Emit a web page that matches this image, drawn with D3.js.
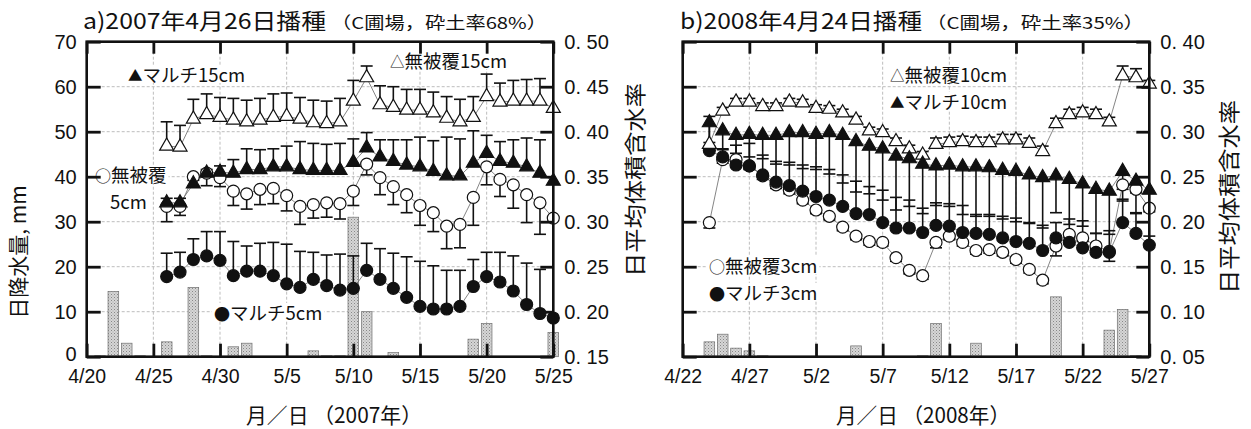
<!DOCTYPE html>
<html><head><meta charset="utf-8">
<script src="https://cdn.jsdelivr.net/npm/d3@7"></script>
<style>
body{margin:0;background:#fff;}
svg{display:block;font-family:"Noto Sans CJK JP","Noto Sans",sans-serif;}
</style></head><body>
<svg id="chart" width="1251" height="429"></svg>
<script>
// ================= Panel a : 2007 =================
const yearA = 2007;
const xTicksA = ["4/20","4/25","4/30","5/5","5/10","5/15","5/20","5/25"];
const datesA = ["4/26","4/27","4/28","4/29","4/30","5/1","5/2","5/3","5/4","5/5","5/6","5/7","5/8","5/9","5/10",
  "5/11","5/12","5/13","5/14","5/15","5/16","5/17","5/18","5/19","5/20","5/21","5/22","5/23","5/24","5/25"];
// 無被覆15cm (open triangle)
const nt15A = [0.384,0.383,0.414,0.419,0.416,0.413,0.411,0.413,0.416,0.417,0.414,0.410,0.409,0.411,0.434,
  0.460,0.430,0.427,0.424,0.424,0.421,0.415,0.411,0.416,0.439,0.433,0.434,0.434,0.434,0.426];
const nt15AErr = [0.027,0.024,0.022,0.023,0.022,0.024,0.024,0.024,0.026,0.026,0.024,0.025,0.025,0.026,0.023,
  0.013,0.021,0.023,0.023,0.023,0.023,0.024,0.025,0.023,0.025,0.021,0.023,0.024,0.025,0];
// マルチ15cm (filled triangle)
const m15A = [0.321,0.321,0.342,0.354,0.355,0.354,0.358,0.358,0.361,0.361,0.358,0.357,0.357,0.357,0.366,
  0.382,0.372,0.367,0.363,0.361,0.356,0.351,0.351,0.365,0.376,0.367,0.365,0.361,0.354,0.345];
const m15AErr = [0.005,0.005,0.004,0.004,0.007,0.015,0.023,0.022,0.020,0.023,0.031,0.030,0.029,0.030,0.026,
  0.017,0.019,0.024,0.028,0.033,0.034,0.043,0.041,0.036,0.020,0.022,0.026,0.032,0.037,0];
// 無被覆5cm (open circle)
const nt5A = [0.317,0.317,0.350,0.354,0.349,0.334,0.331,0.336,0.337,0.329,0.317,0.319,0.321,0.320,0.334,
  0.364,0.349,0.339,0.330,0.318,0.310,0.295,0.297,0.327,0.361,0.347,0.341,0.330,0.321,0.304];
const nt5AErr = [0.017,0.010,0.010,0.014,0.010,0.016,0.017,0.017,0.017,0.017,0.020,0.015,0.016,0.017,0.016,
  0.012,0.019,0.020,0.020,0.022,0.021,0.025,0.026,0.031,0.020,0.019,0.026,0.031,0.035,0];
// マルチ5cm (filled circle)
const m5A = [0.239,0.244,0.258,0.262,0.257,0.240,0.245,0.245,0.240,0.231,0.227,0.236,0.229,0.224,0.226,
  0.246,0.236,0.226,0.216,0.206,0.203,0.203,0.206,0.228,0.239,0.233,0.223,0.208,0.198,0.193];
const m5AErr = [0.026,0.022,0.023,0.027,0.032,0.038,0.028,0.031,0.037,0.044,0.040,0.030,0.034,0.040,0.036,
  0.030,0.034,0.039,0.045,0.050,0.048,0.043,0.040,0.030,0.027,0.033,0.039,0.046,0.049,0];
// daily precipitation (mm)
const rainDatesA = ["4/21","4/22","4/23","4/24","4/26","4/28","4/29","5/1","5/2","5/7","5/8","5/9","5/10","5/11","5/13","5/19","5/20","5/25"];
const rainA = [0.2,14.5,3.0,0.2,3.3,15.4,0.2,2.2,3.0,1.3,0.2,0.2,31.0,10.0,0.9,3.9,7.4,5.4];
const rightTicksA = [0.15,0.20,0.25,0.30,0.35,0.40,0.45,0.50];
const rightLabelsA = ["0. 15","0. 20","0. 25","0. 30","0. 35","0. 40","0. 45","0. 50"];

// ================= Panel b : 2008 =================
const yearB = 2008;
const xTicksB = ["4/22","4/27","5/2","5/7","5/12","5/17","5/22","5/27"];
const datesB = ["4/24","4/25","4/26","4/27","4/28","4/29","4/30","5/1","5/2","5/3","5/4","5/5","5/6","5/7","5/8","5/9","5/10",
  "5/11","5/12","5/13","5/14","5/15","5/16","5/17","5/18","5/19","5/20","5/21","5/22","5/23","5/24","5/25","5/26","5/27"];
// 無被覆10cm (open triangle)
const nt10B = [0.286,0.323,0.333,0.333,0.328,0.328,0.333,0.332,0.326,0.325,0.321,0.313,0.301,0.299,0.289,0.281,0.274,
  0.286,0.288,0.289,0.288,0.288,0.291,0.291,0.287,0.278,0.309,0.319,0.321,0.319,0.311,0.362,0.360,0.353];
const nt10BErr = [0.031,0.004,0.004,0.004,0.004,0.004,0.004,0.004,0.004,0.004,0.004,0.004,0.004,0.004,0.004,0.004,0.004,
  0.007,0.006,0.006,0.006,0.006,0.006,0.006,0.006,0.006,0.006,0.006,0.006,0.006,0.005,0.011,0.010,0.004];
// マルチ10cm (filled triangle)
const m10B = [0.310,0.301,0.296,0.297,0.296,0.296,0.299,0.299,0.297,0.299,0.296,0.289,0.284,0.281,0.273,0.270,0.264,
  0.262,0.263,0.261,0.261,0.260,0.257,0.256,0.252,0.249,0.251,0.247,0.242,0.236,0.234,0.256,0.245,0.235];
const m10BErr = [0.022,0.021,0.020,0.025,0.026,0.032,0.036,0.040,0.039,0.046,0.053,0.056,0.053,0.057,0.060,0.053,0.055,
  0.044,0.046,0.053,0.055,0.054,0.054,0.056,0.053,0.056,0.041,0.050,0.047,0.049,0.048,0.033,0.036,0.020];
// 無被覆3cm (open circle)
const nt3B = [0.199,0.269,0.269,0.262,0.251,0.241,0.235,0.224,0.213,0.206,0.194,0.184,0.178,0.177,0.160,0.146,0.140,
  0.177,0.184,0.177,0.168,0.169,0.166,0.158,0.147,0.135,0.173,0.186,0.182,0.173,0.167,0.241,0.236,0.215];
const nt3BErr = [0.006,0.004,0.004,0.004,0.004,0.004,0.004,0.004,0.004,0.004,0.004,0.004,0.004,0.004,0.004,0.004,0.004,
  0.006,0.004,0.004,0.004,0.004,0.004,0.004,0.004,0.004,0.011,0.004,0.004,0.004,0.011,0.005,0.004,0.004];
// マルチ3cm (filled circle)
const m3B = [0.279,0.272,0.263,0.262,0.252,0.244,0.240,0.234,0.228,0.224,0.217,0.209,0.208,0.199,0.193,0.193,0.188,
  0.196,0.195,0.188,0.187,0.186,0.182,0.178,0.176,0.168,0.182,0.177,0.171,0.166,0.166,0.199,0.187,0.174];
const m3BErr = [0.005,0.009,0.022,0.025,0.022,0.023,0.026,0.029,0.033,0.034,0.035,0.036,0.031,0.036,0.034,0.031,0.027,
  0.025,0.025,0.030,0.021,0.022,0.024,0.026,0.022,0.028,0.017,0.026,0.030,0.021,0.024,0.026,0.023,0.010];
const rainDatesB = ["4/24","4/25","4/26","4/27","4/28","5/5","5/10","5/11","5/14","5/20","5/24","5/25","5/26"];
const rainB = [3.3,5.0,1.9,1.3,0.2,2.4,0.2,7.4,3.0,13.3,5.9,10.5,0.2];
const rightTicksB = [0.05,0.10,0.15,0.20,0.25,0.30,0.35,0.40];
const rightLabelsB = ["0. 05","0. 10","0. 15","0. 20","0. 25","0. 30","0. 35","0. 40"];

const leftTicks = [0,10,20,30,40,50,60,70];

// ================= drawing =================
const svg = d3.select("#chart");
const defs = svg.append("defs");
const pat = defs.append("pattern").attr("id","rainPat").attr("width",3).attr("height",3)
  .attr("patternUnits","userSpaceOnUse");
pat.append("rect").attr("width",3).attr("height",3).attr("fill","#d6d6d6");
pat.append("rect").attr("width",1).attr("height",1).attr("fill","#888");
pat.append("rect").attr("x",1.5).attr("y",1.5).attr("width",1).attr("height",1).attr("fill","#a4a4a4");

const Y_TOP = 41.7, Y_BOT = 356.7;

function labelWithBg(g, l, size) {
  const round = l.sym === "○" || l.sym === "●";
  const t = g.append("text").attr("x",l.x).attr("y",l.y).attr("font-size",size).attr("fill","#111");
  if (l.sym) t.append("tspan").attr("font-size", round ? 16 : 14.5).attr("dy", round ? 0 : -1).text(l.sym);
  t.append("tspan").attr("dy", l.sym && !round ? 1 : 0).text(l.t);
  const b = t.node().getBBox();
  g.insert("rect", () => t.node()).attr("x",b.x-2).attr("y",b.y+4).attr("width",b.width+4).attr("height",b.height-8).attr("fill","#fff");
  return t;
}

function drawPanel(p) {
  const parse = s => { const [m,d] = s.split("/").map(Number); return new Date(Date.UTC(p.year, m-1, d)); };
  const x = d3.scaleUtc().domain([parse(p.xTicks[0]), parse(p.xTicks[p.xTicks.length-1])]).range([p.x0, p.x1]);
  const yL = d3.scaleLinear().domain([0,70]).range([Y_BOT, Y_TOP]);
  const yR = d3.scaleLinear().domain([p.rTicks[0], p.rTicks[p.rTicks.length-1]]).range([Y_BOT, Y_TOP]);
  const g = svg.append("g");
  const dayPx = x(parse("5/2")) - x(parse("5/1"));

  // grid
  const grid = g.append("g").attr("stroke","#b5b5b5").attr("stroke-width",0.9).attr("stroke-dasharray","3,2");
  grid.selectAll("line.h").data(leftTicks.slice(1,-1)).join("line")
    .attr("x1",p.x0).attr("x2",p.x1).attr("y1",d=>yL(d)).attr("y2",d=>yL(d));
  grid.selectAll("line.v").data(p.xTicks.slice(1,-1)).join("line")
    .attr("x1",d=>x(parse(d))).attr("x2",d=>x(parse(d))).attr("y1",Y_TOP).attr("y2",Y_BOT);

  // rain bars
  const bw = dayPx*0.8;
  g.append("g").selectAll("rect").data(p.rainDates.map((d,i)=>({d, v:p.rain[i]}))).join("rect")
    .attr("x",d=>x(parse(d.d))-bw/2).attr("width",bw)
    .attr("y",d=>yL(d.v)).attr("height",d=>Math.max(1.2, Y_BOT-yL(d.v)))
    .attr("fill","url(#rainPat)").attr("stroke","#6f6f6f").attr("stroke-width",0.7);

  // legend labels (under markers)
  const lg = g.append("g");
  p.labels.forEach(l => labelWithBg(lg, l, 18.5));

  // series
  const series = p.series.map(s => ({...s, pts: p.dates.map((d,i)=>({x:x(parse(d)), v:s.vals[i], e:s.err[i]}))}));
  const lineGen = d3.line().x(d=>d.x).y(d=>yR(d.v));
  const sg = g.append("g");
  series.forEach(s => {
    sg.append("path").attr("d", lineGen(s.pts)).attr("fill","none").attr("stroke","#666").attr("stroke-width",0.8);
  });
  series.forEach(s => {
    const eg = sg.append("g").attr("stroke","#111").attr("stroke-width",1.6);
    s.pts.filter(d=>d.e>0).forEach(d => {
      const ye = yR(s.dir==="up" ? d.v + d.e : d.v - d.e);
      eg.append("line").attr("x1",d.x).attr("x2",d.x).attr("y1",yR(d.v)).attr("y2",ye);
      eg.append("line").attr("x1",d.x-6).attr("x2",d.x+6).attr("y1",ye).attr("y2",ye);
    });
  });
  series.forEach(s => {
    const mg = sg.append("g");
    s.pts.forEach(d => {
      if (s.shape === "circle") {
        mg.append("circle").attr("cx",d.x).attr("cy",yR(d.v)).attr("r",6)
          .attr("fill", s.filled ? "#111" : "#fff").attr("stroke","#111").attr("stroke-width",1.2);
      } else {
        mg.append("path").attr("d", d3.symbol(d3.symbolTriangle, 85)())
          .attr("transform",`translate(${d.x},${yR(d.v)})`)
          .attr("fill", s.filled ? "#111" : "#fff").attr("stroke","#111").attr("stroke-width",1.2);
      }
    });
  });

  // frame
  g.append("rect").attr("x",p.x0).attr("y",Y_TOP).attr("width",p.x1-p.x0).attr("height",Y_BOT-Y_TOP)
    .attr("fill","none").attr("stroke","#111").attr("stroke-width",2.6);

  const tickDates = p.xTicks.map(parse);
  const styleTicks = sel => { sel.select(".domain").remove(); sel.selectAll(".tick line").attr("stroke","#111").attr("stroke-width",2.8); sel.selectAll(".tick text").remove(); };
  g.append("g").attr("transform",`translate(0,${Y_BOT})`).call(d3.axisBottom(x).tickValues(tickDates).tickSize(-13)).call(styleTicks);
  g.append("g").attr("transform",`translate(0,${Y_TOP})`).call(d3.axisTop(x).tickValues(tickDates).tickSize(-12)).call(styleTicks);
  g.append("g").attr("transform",`translate(${p.x0},0)`).call(d3.axisLeft(yL).tickValues(leftTicks).tickSize(-14)).call(styleTicks);
  g.append("g").attr("transform",`translate(${p.x1},0)`).call(d3.axisRight(yR).tickValues(p.rTicks).tickSize(-13)).call(styleTicks);

  // tick labels
  const fs = 19.5;
  const xa = g.append("g").attr("transform",`translate(0,${Y_BOT})`)
    .call(d3.axisBottom(x).tickValues(tickDates).tickSize(0).tickPadding(12).tickFormat((d,i)=>p.xTicks[i]));
  xa.select(".domain").remove();
  xa.selectAll("text").attr("font-size",fs).attr("font-family",null).attr("fill","#111");
  const ra = g.append("g").attr("transform",`translate(${p.x1},0)`)
    .call(d3.axisRight(yR).tickValues(p.rTicks).tickSize(0).tickPadding(11).tickFormat((d,i)=>p.rLabels[i]));
  ra.select(".domain").remove();
  ra.selectAll("text").attr("font-size",20).attr("font-family",null).attr("fill","#111");
  if (p.showLeft) {
    const la = g.append("g").attr("transform",`translate(${p.x0},0)`)
      .call(d3.axisLeft(yL).tickValues(leftTicks).tickSize(0).tickPadding(10).tickFormat(d=>String(d)));
    la.select(".domain").remove();
    la.selectAll("text").attr("font-size",20).attr("font-family",null).attr("fill","#111");
    la.selectAll(".tick").filter(d=>d===0).select("text").attr("dy","0.2em");
  }

  // titles
  g.append("text").attr("x",p.titleX).attr("y",29).attr("font-size",22).attr("fill","#111")
    .attr("textLength",p.titleW).attr("lengthAdjust","spacingAndGlyphs").text(p.title);
  g.append("text").attr("x",p.subX).attr("y",29).attr("font-size",16.5).attr("fill","#111")
    .attr("textLength",p.subW).attr("lengthAdjust","spacingAndGlyphs").text(p.sub);
  g.append("text").attr("x",p.xTitleX).attr("y",423).attr("font-size",21).attr("fill","#111")
    .attr("textLength",p.xTitleW).attr("lengthAdjust","spacingAndGlyphs").text(p.xTitle);
  g.append("text").attr("transform",`translate(${p.rTitleX},${p.rTitleY}) rotate(-90)`).attr("text-anchor","middle")
    .attr("font-size",22).attr("fill","#111").attr("textLength",194).attr("lengthAdjust","spacingAndGlyphs").text("日平均体積含水率");
}

drawPanel({
  year: yearA, xTicks: xTicksA, dates: datesA, x0: 86.7, x1: 553.3,
  rTicks: rightTicksA, rLabels: rightLabelsA, showLeft: true,
  rainDates: rainDatesA, rain: rainA,
  series: [
    {vals: nt5A, err: nt5AErr, shape:"circle", filled:false, dir:"down"},
    {vals: m5A, err: m5AErr, shape:"circle", filled:true, dir:"up"},
    {vals: nt15A, err: nt15AErr, shape:"triangle", filled:false, dir:"up"},
    {vals: m15A, err: m15AErr, shape:"triangle", filled:true, dir:"up"}
  ],
  labels: [
    {sym:"▲", t:"マルチ15cm", x:128, y:82},
    {sym:"○", t:"無被覆", x:95, y:182},
    {t:"5cm", x:110, y:209},
    {sym:"△", t:"無被覆15cm", x:390, y:68},
    {sym:"●", t:"マルチ5cm", x:214, y:320}
  ],
  title: "a)2007年4月26日播種", titleX: 83, titleW: 243,
  sub: "（C圃場，砕土率68%）", subX: 331, subW: 216,
  xTitle: "月／日 （2007年）", xTitleX: 246, xTitleW: 176,
  rTitleX: 643, rTitleY: 180
});

drawPanel({
  year: yearB, xTicks: xTicksB, dates: datesB, x0: 682.7, x1: 1149.3,
  rTicks: rightTicksB, rLabels: rightLabelsB, showLeft: false,
  rainDates: rainDatesB, rain: rainB,
  series: [
    {vals: nt3B, err: nt3BErr, shape:"circle", filled:false, dir:"down"},
    {vals: m3B, err: m3BErr, shape:"circle", filled:true, dir:"up"},
    {vals: nt10B, err: nt10BErr, shape:"triangle", filled:false, dir:"up"},
    {vals: m10B, err: m10BErr, shape:"triangle", filled:true, dir:"down"}
  ],
  labels: [
    {sym:"△", t:"無被覆10cm", x:890, y:82},
    {sym:"▲", t:"マルチ10cm", x:890, y:109},
    {sym:"○", t:"無被覆3cm", x:709, y:273},
    {sym:"●", t:"マルチ3cm", x:709, y:300}
  ],
  title: "b)2008年4月24日播種", titleX: 680, titleW: 242,
  sub: "（C圃場，砕土率35%）", subX: 926, subW: 218,
  xTitle: "月／日 （2008年）", xTitleX: 836, xTitleW: 174,
  rTitleX: 1237, rTitleY: 197
});

// left axis title (panel a)
svg.append("text").attr("transform","translate(26,252) rotate(-90)").attr("text-anchor","middle")
  .attr("font-size",21).attr("fill","#111").text("日降水量, mm");
</script>
</body></html>
